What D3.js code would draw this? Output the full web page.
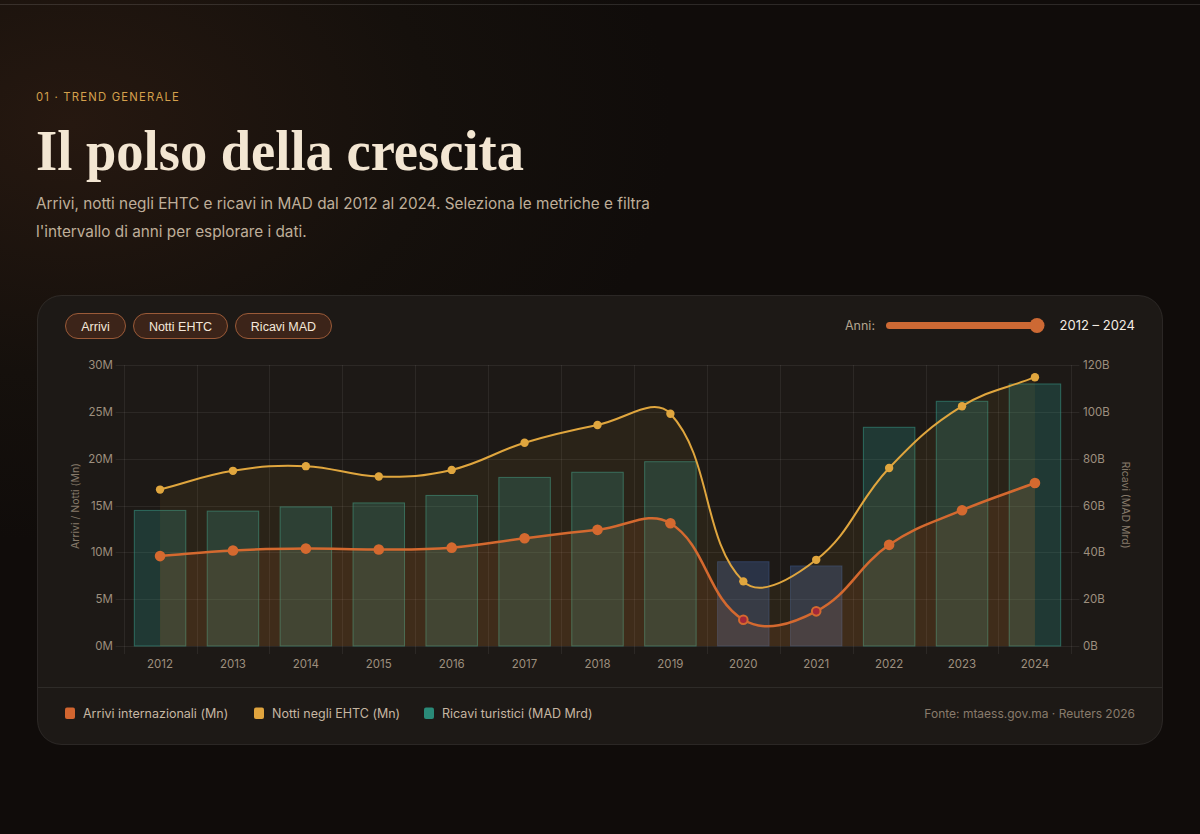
<!DOCTYPE html>
<html><head><meta charset="utf-8">
<script src="https://cdn.jsdelivr.net/npm/d3@7"></script>
<style>
html,body{margin:0;padding:0;background:#100c0a;}
svg{display:block;}
</style></head>
<body>
<svg id="c" width="1200" height="834"></svg>
<script>
// ---- data ----
const years = ["2012","2013","2014","2015","2016","2017","2018","2019","2020","2021","2022","2023","2024"];
const arrivi = [9.6,10.2,10.4,10.3,10.5,11.5,12.4,13.1,2.8,3.7,10.8,14.5,17.4];
const notti = [16.7,18.7,19.2,18.1,18.8,21.7,23.6,24.8,6.9,9.2,19.0,25.6,28.7];
const ricavi = [57.9,57.6,59.4,61.1,64.3,72.0,74.2,78.7,36.0,34.2,93.4,104.5,111.9];
const covidYears = ["2020","2021"];
const leftTicks = [0,5,10,15,20,25,30];
const rightTicks = [0,20,40,60,80,100,120];
const buttons = ["Arrivi","Notti EHTC","Ricavi MAD"];
const legendItems = [
  {label:"Arrivi internazionali (Mn)", color:"#d2652f"},
  {label:"Notti negli EHTC (Mn)", color:"#e0a43e"},
  {label:"Ricavi turistici (MAD Mrd)", color:"#2a8a78"}
];

const svg = d3.select("#c");
const defs = svg.append("defs");
const rg = defs.append("radialGradient").attr("id","glow").attr("cx","0.06").attr("cy","0.15").attr("r","0.5");
rg.append("stop").attr("offset","0").attr("stop-color","#261810");
rg.append("stop").attr("offset","0.6").attr("stop-color","#15100c");
rg.append("stop").attr("offset","1").attr("stop-color","#100c0a");
svg.append("rect").attr("width",1200).attr("height",834).attr("fill","url(#glow)");
svg.append("line").attr("x1",0).attr("x2",1200).attr("y1",4.5).attr("y2",4.5).attr("stroke","rgba(255,255,255,0.12)");

// header
svg.append("text").attr("x",36).attr("y",101).text("01 · TREND GENERALE")
  .attr("fill","#d4a04c").attr("font-family","Inter").attr("font-size",11.3).attr("letter-spacing",1.2);
svg.append("text").attr("x",36).attr("y",170).text("Il polso della crescita")
  .attr("fill","#f3e6d2").attr("font-family","Liberation Serif").attr("font-weight","bold")
  .attr("font-size",58).attr("textLength",488).attr("lengthAdjust","spacingAndGlyphs");
const sub = ["Arrivi, notti negli EHTC e ricavi in MAD dal 2012 al 2024. Seleziona le metriche e filtra",
             "l'intervallo di anni per esplorare i dati."];
sub.forEach((s,i)=>svg.append("text").attr("x",36).attr("y",209+i*27.5).text(s)
  .attr("fill","#bfae99").attr("font-family","Inter").attr("font-size",15.3));

// card
svg.append("rect").attr("x",37.5).attr("y",295.5).attr("width",1125).attr("height",449).attr("rx",24)
  .attr("fill","#1d1916").attr("stroke","rgba(255,255,255,0.09)");
svg.append("line").attr("x1",38).attr("x2",1162).attr("y1",687.5).attr("y2",687.5).attr("stroke","rgba(255,255,255,0.08)");

// buttons
const btnX = [65,133,235], btnW=[60,94,96];
buttons.forEach((b,i)=>{
  svg.append("rect").attr("x",btnX[i]+0.5).attr("y",313.5).attr("width",btnW[i]).attr("height",25).attr("rx",12.5)
    .attr("fill","#3c2419").attr("stroke","#9a5a38");
  svg.append("text").attr("x",btnX[i]+btnW[i]/2+0.5).attr("y",330.5).attr("text-anchor","middle").text(b)
    .attr("fill","#f4e8da").attr("font-family","Liberation Sans").attr("font-size",12.5);
});
// slider
svg.append("text").attr("x",875).attr("y",329.5).attr("text-anchor","end").text("Anni:")
  .attr("fill","#b3a48f").attr("font-family","Inter").attr("font-size",12.5);
svg.append("rect").attr("x",886).attr("y",322).attr("width",152).attr("height",7).attr("rx",3.5).attr("fill","#cd6934");
svg.append("circle").attr("cx",1037).attr("cy",325.5).attr("r",7.5).attr("fill","#cd6934");
svg.append("text").attr("x",1135).attr("y",330).attr("text-anchor","end").text("2012 – 2024")
  .attr("fill","#f4ede4").attr("font-family","Inter").attr("font-size",13);

// chart
const x0 = 123.6, x1 = 1071.4, yTop = 365, yBot = 646;
const x = d3.scaleBand().domain(years).range([x0,x1]);
const yL = d3.scaleLinear().domain([0,30]).range([yBot,yTop]);
const yR = d3.scaleLinear().domain([0,120]).range([yBot,yTop]);
const g = svg.append("g");
const gridC = "rgba(255,255,255,0.065)";
leftTicks.forEach(t=>{
  g.append("line").attr("x1",x0-8).attr("x2",x1+8).attr("y1",Math.round(yL(t))+0.5).attr("y2",Math.round(yL(t))+0.5).attr("stroke",gridC);
  g.append("text").attr("x",113).attr("y",yL(t)+4).attr("text-anchor","end").text(t+"M")
    .attr("fill","#9d8f7e").attr("font-family","Inter").attr("font-size",11.5);
});
rightTicks.forEach(t=>{
  g.append("text").attr("x",1083).attr("y",yR(t)+4).attr("text-anchor","start").text(t+"B")
    .attr("fill","#9d8f7e").attr("font-family","Inter").attr("font-size",11.5);
});
d3.range(years.length+1).forEach(i=>{
  const xx = Math.round(x0 + i*x.step())+0.5;
  g.append("line").attr("x1",xx).attr("x2",xx).attr("y1",yTop).attr("y2",yBot+8).attr("stroke",gridC);
});
years.forEach(yv=>{
  g.append("text").attr("x",x(yv)+x.bandwidth()/2).attr("y",668).attr("text-anchor","middle").text(yv)
    .attr("fill","#9d8f7e").attr("font-family","Inter").attr("font-size",11.5);
});
g.append("text").attr("transform","translate(79,506) rotate(-90)").attr("text-anchor","middle").text("Arrivi / Notti (Mn)")
  .attr("fill","#86796a").attr("font-family","Inter").attr("font-size",10.5);
g.append("text").attr("transform","translate(1122,505) rotate(90)").attr("text-anchor","middle").text("Ricavi (MAD Mrd)")
  .attr("fill","#86796a").attr("font-family","Inter").attr("font-size",10.5);

// bars
const barW = x.bandwidth()*0.72;
g.selectAll(".bar").data(years).enter().append("rect")
  .attr("x",d=>x(d)+(x.bandwidth()-barW)/2+0.5)
  .attr("y",(d,i)=>yR(ricavi[i]))
  .attr("width",barW-1)
  .attr("height",(d,i)=>yBot-yR(ricavi[i]))
  .attr("fill",d=>covidYears.includes(d)?"rgba(72,108,175,0.32)":"rgba(42,157,143,0.25)")
  .attr("stroke",d=>covidYears.includes(d)?"rgba(72,108,175,0.35)":"rgba(60,170,150,0.5)")
  .attr("stroke-width",1);

// spline (Chart.js style, tension 0.4)
function pts(vals){ return years.map((yv,i)=>({x:x(yv)+x.bandwidth()/2, y:yL(vals[i])})); }
function splinePath(p, t, close){
  const cps = p.map((c,i)=>{
    const pr = p[i-1]||c, nx = p[i+1]||c;
    const d01 = Math.hypot(c.x-pr.x,c.y-pr.y), d12 = Math.hypot(nx.x-c.x,nx.y-c.y);
    let s01 = d01/(d01+d12), s12 = d12/(d01+d12);
    if(isNaN(s01)) s01=0; if(isNaN(s12)) s12=0;
    const fa=t*s01, fb=t*s12;
    return {px:c.x-fa*(nx.x-pr.x), py:c.y-fa*(nx.y-pr.y), nx:c.x+fb*(nx.x-pr.x), ny:c.y+fb*(nx.y-pr.y)};
  });
  const path = d3.path();
  path.moveTo(p[0].x,p[0].y);
  for(let i=1;i<p.length;i++){
    path.bezierCurveTo(cps[i-1].nx,cps[i-1].ny,cps[i].px,cps[i].py,p[i].x,p[i].y);
  }
  if(close){ path.lineTo(p[p.length-1].x,yBot); path.lineTo(p[0].x,yBot); path.closePath(); }
  return path.toString();
}
const pN = pts(notti), pA = pts(arrivi);
g.append("path").attr("d",splinePath(pN,0.4,true)).attr("fill","rgba(224,166,62,0.07)");
g.append("path").attr("d",splinePath(pA,0.4,true)).attr("fill","rgba(212,105,47,0.13)");
g.append("path").attr("d",splinePath(pN,0.4,false)).attr("fill","none").attr("stroke","#e0a63e").attr("stroke-width",2);
g.append("path").attr("d",splinePath(pA,0.4,false)).attr("fill","none").attr("stroke","#d4692f").attr("stroke-width",2.5);
g.selectAll(".pn").data(pN).enter().append("circle").attr("cx",d=>d.x).attr("cy",d=>d.y).attr("r",4.2).attr("fill","#e0a63e");
g.selectAll(".pa").data(pA).enter().append("circle").attr("cx",d=>d.x).attr("cy",d=>d.y)
  .attr("r",(d,i)=>covidYears.includes(years[i])?4.3:5.3)
  .attr("fill",(d,i)=>covidYears.includes(years[i])?"#a3283a":"#d4692f")
  .attr("stroke","#d4692f").attr("stroke-width",(d,i)=>covidYears.includes(years[i])?2:0);

// legend
const legX = [65,254,424];
legendItems.forEach((l,i)=>{
  svg.append("rect").attr("x",legX[i]).attr("y",707.5).attr("width",10).attr("height",11.5).attr("rx",2).attr("fill",l.color);
  svg.append("text").attr("x",legX[i]+18).attr("y",718).text(l.label)
    .attr("fill","#c6b6a2").attr("font-family","Inter").attr("font-size",12.5);
});
svg.append("text").attr("x",1135).attr("y",718).attr("text-anchor","end").text("Fonte: mtaess.gov.ma · Reuters 2026")
  .attr("fill","#887b6c").attr("font-family","Inter").attr("font-size",12);
</script>
</body></html>
